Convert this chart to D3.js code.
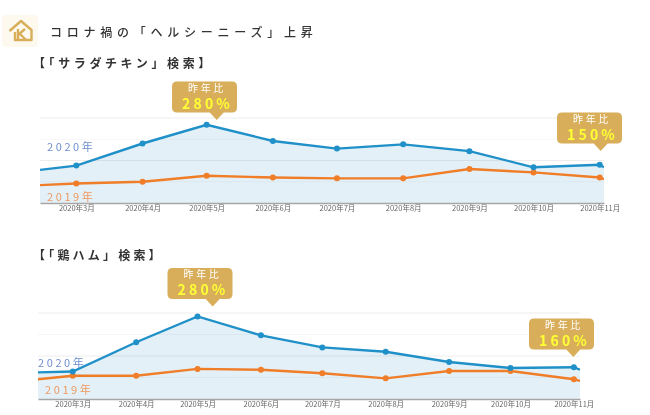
<!DOCTYPE html>
<html lang="ja"><head><meta charset="utf-8">
<script src="https://cdn.jsdelivr.net/npm/d3@7"></script>
<style>
html,body{margin:0;padding:0;background:#fff;overflow:hidden}
svg{display:block;filter:blur(.35px)}
text{font-family:"Noto Sans CJK JP","Noto Sans",sans-serif}
</style></head><body><div id="c"></div>
<script>
const mainTitle = "コロナ禍の「ヘルシーニーズ」上昇";
const dates = ["2020-02-13","2020-03-01","2020-04-01","2020-05-01","2020-06-01","2020-07-01","2020-08-01","2020-09-01","2020-10-01","2020-11-01"];
const tickLabels = ["2020年3月","2020年4月","2020年5月","2020年6月","2020年7月","2020年8月","2020年9月","2020年10月","2020年11月"];
const salad2020 = [39,44,70,92,73,64,69,61,42,45,42];
const salad2019 = [21,23,25,32,30,29,29,40,36,30,28];
const ham2020 = [31,32,66,96,74,60,55,43,36,37,34];
const ham2019 = [23,27,27,35,34,30,24,32.5,32.5,23,21];
const gridValues = [25,50,75,100];

const W=650,H=415;
const parse=d3.utcParse("%Y-%m-%d");
const gold="#d8ae5b", blue="#2090c8", orange="#f07d28", fill="#e3f0f7";
const svg=d3.select("#c").append("svg").attr("width",W).attr("height",H).attr("viewBox",[0,0,W,H]);

function spaced(t,x,y,size,ls,color,weight,anchor){
  return svg.append("text").attr("x",x).attr("y",y).attr("font-size",size).attr("letter-spacing",ls)
    .attr("fill",color).attr("font-weight",weight||400).attr("text-anchor",anchor||"start")
    .attr("dominant-baseline","central").text(t);
}

// logo
const logo=svg.append("g");
logo.append("rect").attr("x",2).attr("y",15).attr("width",36).attr("height",32).attr("rx",4).attr("fill","#fdf9ef");
logo.append("path").attr("d","M9.5 31 L21 21 L31.5 30 V40 H15 V32").attr("fill","none").attr("stroke",gold).attr("stroke-width",2.4).attr("stroke-linejoin","round");
logo.append("path").attr("d","M18 29 V40 M18 35 L25 29 M20 34 L26 40").attr("fill","none").attr("stroke",gold).attr("stroke-width",2.4);

spaced(mainTitle,50,31,12,4.75,"#333",500);

function chart(cfg){
  spaced(cfg.title,cfg.titleX,cfg.titleY,12,cfg.titleLs,"#333",700);
  const end=new Date(Date.UTC(2020,10,cfg.endDay));
  const ds=dates.map(parse).concat([end]);
  const x=d3.scaleUtc().domain([ds[0],end]).range([cfg.x0,cfg.x1]);
  const y=d3.scaleLinear().domain([0,100]).range([cfg.base,cfg.top]);
  const g=svg.append("g");
  const clipId="clip"+cfg.id;
  svg.append("clipPath").attr("id",clipId).append("rect")
    .attr("x",cfg.x0).attr("y",cfg.top-8).attr("width",cfg.x1-cfg.x0).attr("height",cfg.base-cfg.top+8);
  const a=cfg.a.map((v,i)=>[ds[i],v]), b=cfg.b.map((v,i)=>[ds[i],v]);
  const area=d3.area().x(d=>x(d[0])).y0(y(0)).y1(d=>y(d[1]));
  const line=d3.line().x(d=>x(d[0])).y(d=>y(d[1]));
  g.append("path").datum(a).attr("d",area).attr("fill",fill).attr("clip-path",`url(#${clipId})`);
  g.append("g").selectAll("line").data(gridValues).join("line")
    .attr("x1",cfg.x0).attr("x2",cfg.x1).attr("y1",d=>y(d)).attr("y2",d=>y(d))
    .attr("stroke","#000").attr("stroke-opacity",d=>d%50===0?.07:.035).attr("stroke-width",1);
  [[b,orange],[a,blue]].forEach(([s,c])=>{
    g.append("path").datum(s).attr("d",line).attr("fill","none").attr("stroke",c).attr("stroke-width",2.4).attr("clip-path",`url(#${clipId})`);
    g.append("g").selectAll("circle").data(s.slice(1,10)).join("circle")
      .attr("cx",d=>x(d[0])).attr("cy",d=>y(d[1])).attr("r",3).attr("fill",c);
  });
  const ax=d3.axisBottom(x).tickValues(ds.slice(1,10)).tickSize(0).tickPadding(3)
    .tickFormat((d,i)=>tickLabels[i]);
  const axG=g.append("g").attr("transform",`translate(0,${cfg.base})`).call(ax);
  axG.select(".domain").attr("stroke","#a6a6a6").attr("stroke-width",1.5);
  axG.selectAll("text").attr("font-size",7.5).attr("fill","#666")
     .attr("font-family",'"Noto Sans CJK JP",sans-serif').attr("dy","0.6em");
  cfg.labels.forEach(l=>spaced(l.t,l.x,l.y,11,2.6,l.c,400));
  cfg.callouts.forEach(c=>{
    const p=`M${c.x+5} ${c.y} H${c.x+60} Q${c.x+65} ${c.y} ${c.x+65} ${c.y+5} V${c.y+26} Q${c.x+65} ${c.y+31} ${c.x+60} ${c.y+31} H${c.tip+7} L${c.tip} ${c.y+38.5} L${c.tip-7} ${c.y+31} H${c.x+5} Q${c.x} ${c.y+31} ${c.x} ${c.y+26} V${c.y+5} Q${c.x} ${c.y} ${c.x+5} ${c.y} Z`;
    svg.append("path").attr("d",p).attr("fill",gold);
    spaced("昨年比",c.x+35,c.y+5.5,10,2.6,"#fff",400,"middle");
    spaced(c.pct,c.x+35.5,c.y+21,14,3.2,"#ffff33",700,"middle");
  });
}
chart({id:1,title:"【「サラダチキン」検索】",titleX:33,titleY:62,titleLs:3.6,x0:40,x1:604,top:118,base:203,endDay:3,
  a:salad2020,b:salad2019,
  labels:[{t:"2020年",x:47,y:146,c:"#6f8fd0"},{t:"2019年",x:47,y:196,c:"#ee9a62"}],
  callouts:[{x:172,y:81.5,tip:216.7,pct:"280%"},{x:557,y:112.5,tip:600.7,pct:"150%"}]});
chart({id:2,title:"【「鶏ハム」検索】",titleX:33,titleY:254,titleLs:3.2,x0:38,x1:580,top:313,base:399,endDay:4,
  a:ham2020,b:ham2019,
  labels:[{t:"2020年",x:38,y:362,c:"#6f8fd0"},{t:"2019年",x:45,y:389,c:"#ee9a62"}],
  callouts:[{x:167.5,y:268,tip:212.7,pct:"280%"},{x:529,y:318.5,tip:573.3,pct:"160%"}]});
</script></body></html>
